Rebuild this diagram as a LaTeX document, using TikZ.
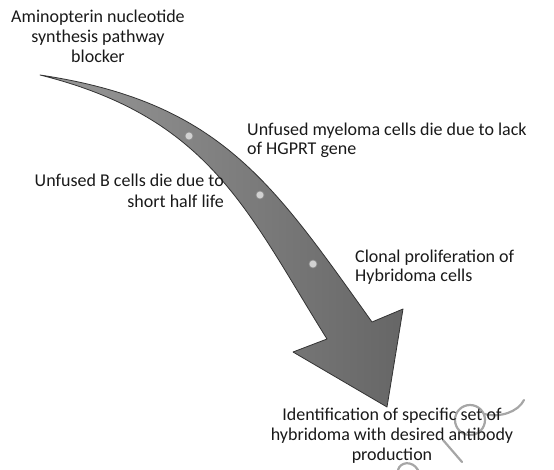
\documentclass[tikz,border=0pt]{standalone}
\usepackage{fontspec}
\setmainfont{Carlito}
\begin{document}
\begin{tikzpicture}[x=1pt,y=-1pt,
  lbl/.style={inner sep=0pt, font=\fontsize{18}{20}\selectfont, text=black!90},
  arrowbody/.style={draw=black!80, line width=0.8pt, line join=round, left color=black!40, right color=black!60},
  celldot/.style={circle, draw=black!45, fill=black!18, line width=0.6pt, minimum size=8pt, inner sep=0pt},
  wmark/.style={draw=black!35, line width=2.2pt, line cap=round}]
\useasboundingbox (0,0) rectangle (554,470);
% curved arrow
\coordinate (tail) at (40,75);
\coordinate (rs) at (372,322);
\coordinate (rc) at (403,309);
\coordinate (tip) at (387,407);
\coordinate (lc) at (293,352);
\coordinate (ls) at (327,339);
\path[arrowbody]
  (tail) .. controls (220,102) and (272,182) .. (rs)
  -- (rc) -- (tip) -- (lc) -- (ls)
  .. controls (247,211) and (210,117.5) .. (tail)
  -- cycle;
% dots on the arrow
\node[celldot] (d1) at (189,136) {};
\node[celldot] (d2) at (260,195) {};
\node[celldot] (d3) at (313,264) {};
% watermark
\draw[wmark] (470,420) circle (15);
\draw[wmark] (484,414) .. controls (500,418) and (518,412) .. (524,400);
\draw[wmark] (443,440) -- (462,462);
\draw[wmark] (398,470) .. controls (400,462) and (412,460) .. (418,470);
% texts
\node[lbl, anchor=base] (a1) at (98,23) {Aminopterin nucleotide};
\node[lbl, anchor=base] (a2) at (98,43) {synthesis pathway};
\node[lbl, anchor=base] (a3) at (98,63) {blocker};
\node[lbl, anchor=base west] (m1) at (247,136) {Unfused myeloma cells die due to lack};
\node[lbl, anchor=base west] (m2) at (247,155) {of HGPRT gene};
\node[lbl, anchor=base east] (b1) at (224,187) {Unfused B cells die due to};
\node[lbl, anchor=base east] (b2) at (224,208) {short half life};
\node[lbl, anchor=base west] (c1) at (355,263) {Clonal proliferation of};
\node[lbl, anchor=base west] (c2) at (355,282) {Hybridoma cells};
\node[lbl, anchor=base] (i1) at (392,420) {Identification of specific set of};
\node[lbl, anchor=base] (i2) at (392,440) {hybridoma with desired antibody};
\node[lbl, anchor=base] (i3) at (392,460) {production};
\end{tikzpicture}
\end{document}
